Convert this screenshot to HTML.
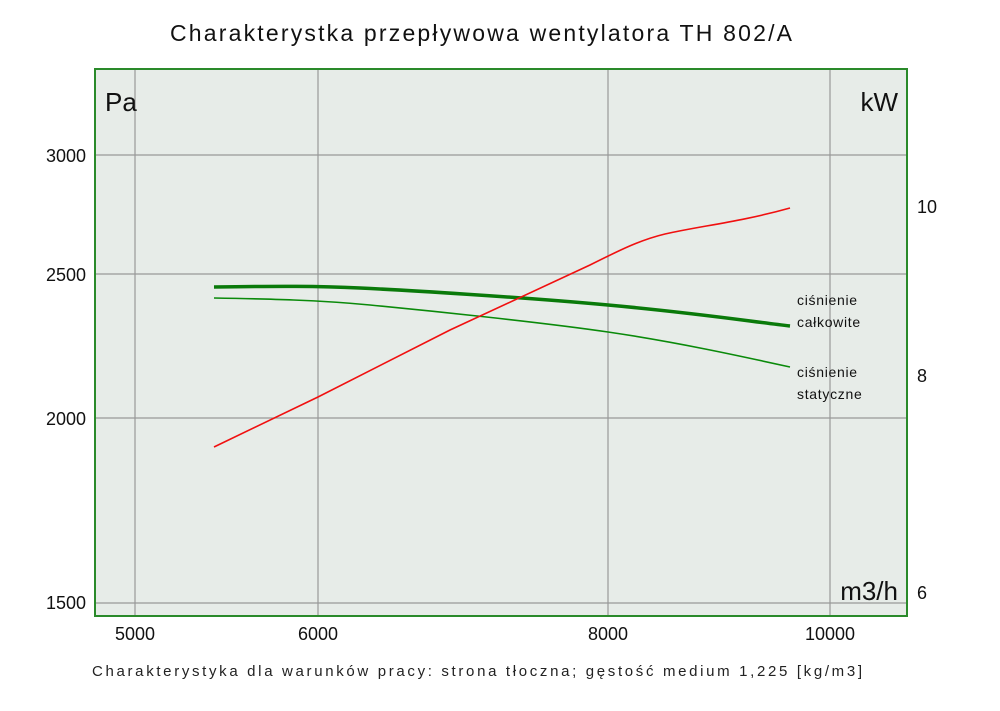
<!DOCTYPE html>
<html><head><meta charset="utf-8"><style>
body{margin:0;background:#fff;}
svg text{font-family:"Liberation Sans","DejaVu Sans",sans-serif;}
</style></head><body>
<svg width="1000" height="706" xmlns="http://www.w3.org/2000/svg">
<text x="481" y="41" font-size="23" text-anchor="middle" fill="#111" textLength="622" lengthAdjust="spacing">Charakterystka przepływowa wentylatora TH 802/A</text>
<rect x="95" y="69" width="812" height="547" fill="#e7ece8"/>
<g stroke="#999" stroke-width="1.2">
<line x1="135" y1="69" x2="135" y2="616"/>
<line x1="318" y1="69" x2="318" y2="616"/>
<line x1="608" y1="69" x2="608" y2="616"/>
<line x1="830" y1="69" x2="830" y2="616"/>
<line x1="95" y1="155" x2="907" y2="155"/>
<line x1="95" y1="274" x2="907" y2="274"/>
<line x1="95" y1="418" x2="907" y2="418"/>
<line x1="95" y1="603" x2="907" y2="603"/>
</g>
<rect x="95" y="69" width="812" height="547" fill="none" stroke="#2a8a2a" stroke-width="2"/>
<path d="M214,287 C280,286 318,286 360,288 S520,297 608,305 S740,320 790,326" fill="none" stroke="#0a7a0a" stroke-width="3.5"/>
<path d="M214,298 C270,299 318,300 370,305 S540,322 608,332 S740,356 790,367" fill="none" stroke="#0a8a0a" stroke-width="1.6"/>
<path d="M214,447 L318,397 L450,330 L590,265 C620,250 640,240 665,234 C700,226 740,222 790,208" fill="none" stroke="#f01010" stroke-width="1.6"/>
<text x="105" y="111" font-size="26" fill="#111">Pa</text>
<text x="898" y="111" font-size="26" fill="#111" text-anchor="end">kW</text>
<text x="898" y="600" font-size="26" fill="#111" text-anchor="end">m3/h</text>
<g font-size="18" fill="#111" text-anchor="end">
<text x="86" y="162">3000</text>
<text x="86" y="281">2500</text>
<text x="86" y="425">2000</text>
<text x="86" y="609">1500</text>
</g>
<g font-size="18" fill="#111">
<text x="917" y="213">10</text>
<text x="917" y="382">8</text>
<text x="917" y="599">6</text>
</g>
<g font-size="18" fill="#111" text-anchor="middle">
<text x="135" y="640">5000</text>
<text x="318" y="640">6000</text>
<text x="608" y="640">8000</text>
<text x="830" y="640">10000</text>
</g>
<g font-size="14" fill="#111" letter-spacing="0.7">
<text x="797" y="305">ciśnienie</text>
<text x="797" y="327">całkowite</text>
<text x="797" y="377">ciśnienie</text>
<text x="797" y="399">statyczne</text>
</g>
<text x="92" y="676" font-size="15" fill="#222" textLength="770" lengthAdjust="spacing">Charakterystyka dla warunków pracy: strona tłoczna; gęstość medium 1,225 [kg/m3]</text>
</svg>
</body></html>
